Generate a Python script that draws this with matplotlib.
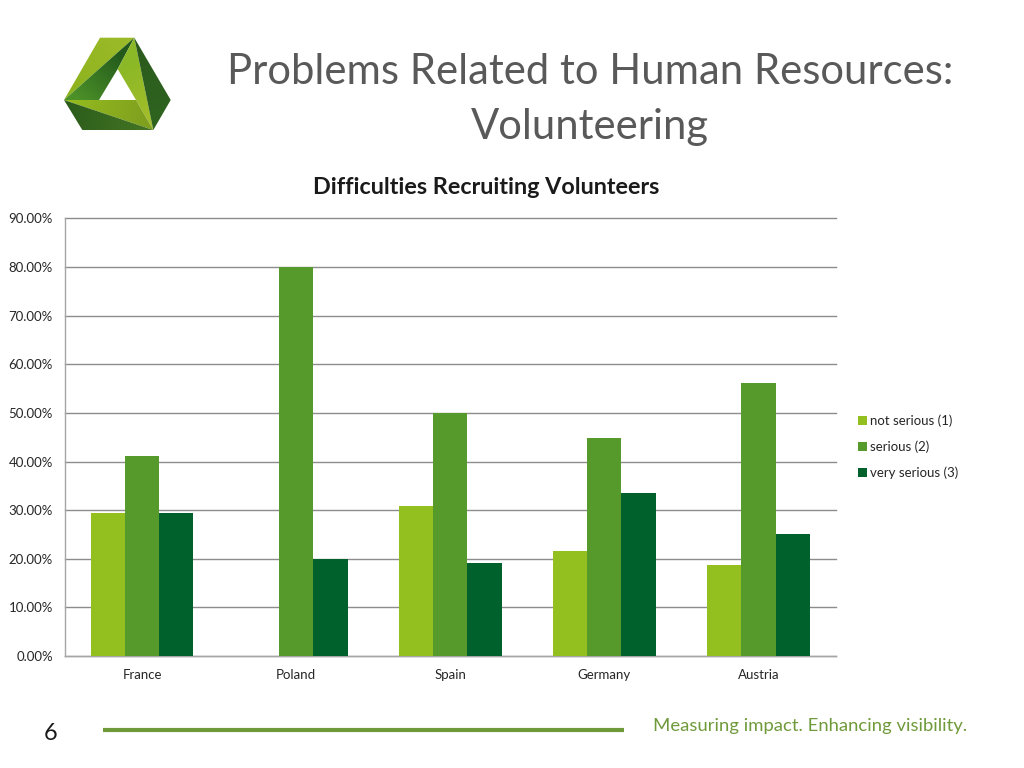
import numpy as np
import matplotlib
matplotlib.use("Agg")
import matplotlib.pyplot as plt
from matplotlib.colors import LinearSegmentedColormap
from matplotlib.patches import Polygon

plt.rcParams["font.family"] = ["Lato", "DejaVu Sans"]

# Chart data
countries = ["France", "Poland", "Spain", "Germany", "Austria"]
not_serious = [29.4, 0, 30.8, 21.6, 18.75]
serious = [41.2, 80, 50, 44.8, 56.25]
very_serious = [29.4, 20, 19.2, 33.6, 25]
y_ticks = [0, 10, 20, 30, 40, 50, 60, 70, 80, 90]

W, H = 1024, 768
fig = plt.figure(figsize=(W / 100, H / 100), dpi=100, facecolor="white")

# Overlay in pixel coordinates for the slide parts
slide = fig.add_axes([0, 0, 1, 1])
slide.set_xlim(0, W)
slide.set_ylim(H, 0)
slide.axis("off")

# Main chart
ax = fig.add_axes([65 / W, 1 - 656 / H, (835.5 - 65) / W, (656 - 218.5) / H])
ax.patch.set_alpha(0)
x = np.arange(len(countries))
bar_w = 0.2225
ax.bar(x - bar_w, not_serious, bar_w, color="#93c01f", label="not serious (1)", zorder=3)
ax.bar(x, serious, bar_w, color="#569a2b", label="serious (2)", zorder=3)
ax.bar(x + bar_w, very_serious, bar_w, color="#00612c", label="very serious (3)", zorder=3)

ax.set_xlim(-0.5, 4.5)
ax.set_ylim(0, 90)
ax.set_xticks(x, countries)
ax.set_yticks(y_ticks, [f"{v:.2f}%" for v in y_ticks])
ax.tick_params(axis="both", length=0, labelsize=9.5, labelcolor="#262626")
ax.tick_params(axis="x", pad=9.5)
ax.tick_params(axis="y", pad=8.7)
ax.grid(axis="y", color="#8c8c8c", linewidth=1, zorder=1)
for line in ax.get_ygridlines():
    line.set_clip_on(False)
for side in ["top", "right"]:
    ax.spines[side].set_visible(False)
for side in ["left", "bottom"]:
    ax.spines[side].set_color("#a6a6a6")
    ax.spines[side].set_linewidth(1)

ax.legend(
    loc="center left",
    bbox_to_anchor=(846 / W, 1 - 447 / H),
    bbox_transform=fig.transFigure,
    frameon=False,
    fontsize=9.5,
    handlelength=0.68,
    handleheight=0.68,
    handletextpad=0.23,
    labelspacing=1.03,
    labelcolor="#262626",
)

# Titles
slide.text(590, 72, "Problems Related to Human Resources:", ha="center", va="center",
           fontsize=30.1, color="#595959")
slide.text(590, 127, "Volunteering", ha="center", va="center", fontsize=30.1, color="#595959")
slide.text(486, 188, "Difficulties Recruiting Volunteers", ha="center", va="center",
           fontsize=16.8, fontweight="bold", color="#1a1a1a")

# Footer
slide.plot([103, 624], [729.5, 729.5], color="#6f9a3a", linewidth=3, solid_capstyle="butt")
slide.text(51, 734, "6", ha="center", va="center", fontsize=17, color="#1a1a1a")
slide.text(810, 726, "Measuring impact. Enhancing visibility.", ha="center", va="center",
           fontsize=13.3, color="#6f9a3a")


def shade(pts, start, end, col_a, col_b):
    # one logo face, shaded from start to end and clipped to the polygon
    xs = np.arange(60, 175)
    ys = np.arange(35, 133)
    gx, gy = np.meshgrid(xs, ys)
    dx, dy = end[0] - start[0], end[1] - start[1]
    t = ((gx - start[0]) * dx + (gy - start[1]) * dy) / (dx * dx + dy * dy)
    cmap = LinearSegmentedColormap.from_list("face", [col_a, col_b])
    img = slide.imshow(t.clip(0, 1), cmap=cmap, vmin=0, vmax=1, aspect="auto",
                       extent=(60, 175, 133, 35), interpolation="bilinear")
    img.set_clip_path(Polygon(pts, closed=True, transform=slide.transData))


# Logo
shade([(100, 37.7), (134.3, 37.7), (64, 100)], (134, 38), (70, 95), "#9dbb28", "#8db31f")
shade([(134.3, 37.7), (64, 100), (99, 100), (117.7, 69)], (122, 55), (80, 100), "#235a1c", "#4c9028")
shade([(134.3, 37.7), (117.7, 69), (136, 100), (153.3, 130)], (120, 65), (148, 115), "#8ab826", "#a2bd2a")
shade([(134.3, 37.7), (170.7, 100), (153.3, 130)], (135, 40), (160, 125), "#2b5a1c", "#2f6420")
shade([(64, 100), (136, 100), (153.3, 130)], (70, 100), (148, 120), "#94bb1e", "#7f9f1f")
shade([(64, 100), (153.3, 130), (82.3, 130)], (68, 102), (150, 130), "#2b5c1b", "#457523")
slide.set_xlim(0, W)
slide.set_ylim(H, 0)

fig.savefig("out.png", dpi=100)
